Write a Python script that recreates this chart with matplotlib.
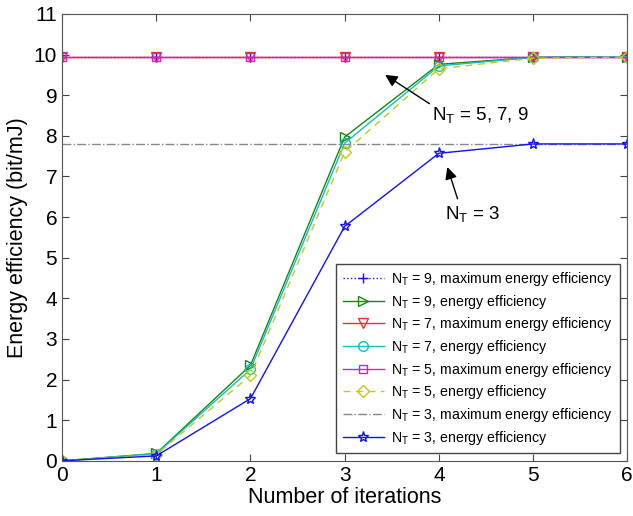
import matplotlib
matplotlib.use("Agg")
import matplotlib.pyplot as plt

plt.rcParams["font.family"] = ["Liberation Sans", "DejaVu Sans"]
plt.rcParams["mathtext.fontset"] = "custom"
plt.rcParams["mathtext.rm"] = "Liberation Sans"

iterations = [0, 1, 2, 3, 4, 5, 6]

# maximum energy efficiency (flat reference levels)
max_nt9 = [9.95] * 7
max_nt7 = [9.95] * 7
max_nt5 = [9.95] * 7
max_nt3 = [7.81] * 7

# energy efficiency per iteration
ee_nt9 = [0.0, 0.18, 2.35, 7.97, 9.76, 9.93, 9.95]
ee_nt7 = [0.0, 0.17, 2.25, 7.82, 9.72, 9.93, 9.95]
ee_nt5 = [0.0, 0.15, 2.10, 7.60, 9.65, 9.91, 9.94]
ee_nt3 = [0.0, 0.12, 1.53, 5.77, 7.57, 7.80, 7.80]

def nt(n, what):
    return r"$\mathregular{N_T}$ = %d, %s" % (n, what)

fig = plt.figure(figsize=(6.33, 5.16), dpi=100)
ax = fig.add_axes([0.098, 0.107, 0.893, 0.866])

ms = 7
ax.plot(iterations, max_nt9, ":", color="#1010ff", marker="+", ms=ms, lw=1,
        label=nt(9, "maximum energy efficiency"))
ax.plot(iterations, ee_nt9, "-", color="#108a10", marker=">", ms=ms, lw=1,
        mfc="none", label=nt(9, "energy efficiency"))
ax.plot(iterations, max_nt7, "-", color="#f03030", marker="v", ms=ms, lw=1,
        mfc="none", label=nt(7, "maximum energy efficiency"))
ax.plot(iterations, ee_nt7, "-", color="#10c0c0", marker="o", ms=ms, lw=1,
        mfc="none", label=nt(7, "energy efficiency"))
ax.plot(iterations, max_nt5, "-", color="#d020d0", marker="s", ms=6, lw=1,
        mfc="none", label=nt(5, "maximum energy efficiency"))
ax.plot(iterations, ee_nt5, "--", color="#c8c81a", marker="D", ms=6, lw=1,
        mfc="none", dashes=(5, 4), label=nt(5, "energy efficiency"))
ax.plot(iterations, max_nt3, "-.", color="#888888", lw=1,
        label=nt(3, "maximum energy efficiency"))
ax.plot(iterations, ee_nt3, "-", color="#1010ff", marker="*", ms=8, lw=1,
        mfc="none", label=nt(3, "energy efficiency"))

ax.set_xlim(0, 6)
ax.set_ylim(0, 11)
ax.set_xticks(range(0, 7))
ax.set_yticks(range(0, 12))
ax.tick_params(direction="in", top=True, right=True, labelsize=15, length=5,
               color="#444444")
for s in ax.spines.values():
    s.set_color("#555555")

ax.set_xlabel("Number of iterations", fontsize=15.5, labelpad=2)
ax.set_ylabel("Energy efficiency (bit/mJ)", fontsize=15.5, labelpad=4)

ax.annotate(r"$\mathregular{N_T}$ = 5, 7, 9", xy=(3.43, 9.5), xytext=(3.93, 8.5),
            fontsize=13.5, va="center", ha="left",
            arrowprops=dict(arrowstyle="-|>", color="black", lw=1,
                            mutation_scale=18, shrinkA=0, shrinkB=0,
                            relpos=(0.0, 1.0)))
ax.annotate(r"$\mathregular{N_T}$ = 3", xy=(4.09, 7.23), xytext=(4.07, 6.07),
            fontsize=13.5, va="center", ha="left",
            arrowprops=dict(arrowstyle="-|>", color="black", lw=1,
                            mutation_scale=18, shrinkA=2, shrinkB=0,
                            relpos=(0.25, 1.0)))

leg = ax.legend(loc="lower right", fontsize=10.2, fancybox=False,
                framealpha=1, edgecolor="#444444", handlelength=2.9,
                handletextpad=0.55, borderpad=0.45, borderaxespad=0.55,
                labelspacing=0.33)
leg.get_frame().set_linewidth(1)

fig.savefig("out.png", dpi=100)
